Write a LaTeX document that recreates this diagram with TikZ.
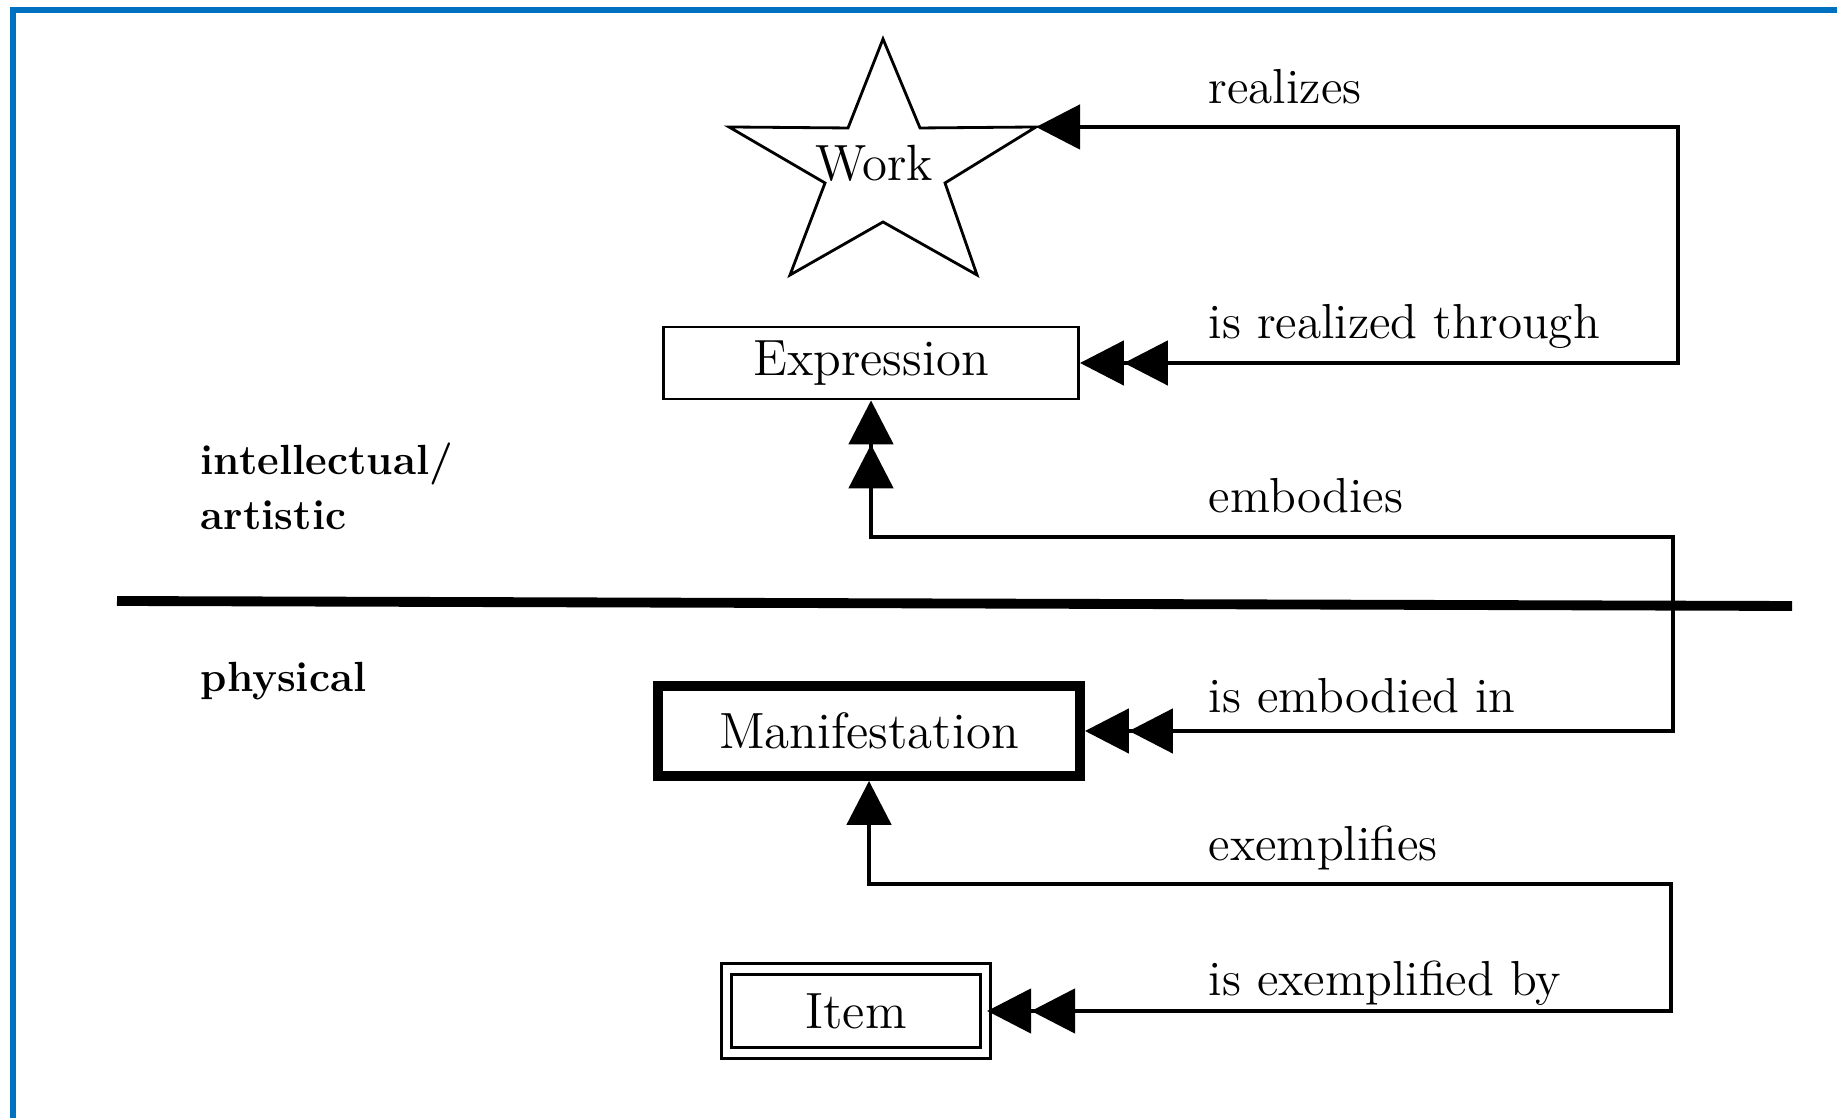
\documentclass[tikz,border=0pt]{standalone}
\usetikzlibrary{arrows.meta}
\definecolor{frameblue}{RGB}{0,112,192}
\begin{document}
\begin{tikzpicture}[
    entity/.style={draw, inner sep=0pt, font=\fontsize{14.5}{17}\selectfont},
    rel/.style={anchor=base west, inner sep=0pt, font=\fontsize{14}{17}\selectfont},
    level/.style={anchor=base west, inner sep=0pt, font=\fontsize{12}{15}\selectfont\bfseries},
    link/.style={line width=1.4pt},
    onetwo/.style={{Triangle[length=4.4mm,width=4.4mm]}-{Triangle[length=4.4mm,width=4.4mm,sep=0pt] Triangle[length=4.4mm,width=4.4mm,sep=0pt]}},
    twotwo/.style={{Triangle[length=4.4mm,width=4.4mm,sep=0pt] Triangle[length=4.4mm,width=4.4mm,sep=0pt]}-{Triangle[length=4.4mm,width=4.4mm,sep=0pt] Triangle[length=4.4mm,width=4.4mm,sep=0pt]}},
    twoone/.style={{Triangle[length=4.4mm,width=4.4mm,sep=0pt] Triangle[length=4.4mm,width=4.4mm,sep=0pt]}-{Triangle[length=4.4mm,width=4.4mm]}}
  ]
  \useasboundingbox (0,0) rectangle (18.37,11.18);
  \draw[frameblue, line width=0.6mm] (0.13,0) -- (0.13,11.08) -- (18.37,11.08);

  % work as a star
  \draw[line width=0.8pt] (8.83,10.79) -- (9.20,9.90) -- (10.36,9.91) -- (9.45,9.35) -- (9.77,8.43)
     -- (8.83,8.96) -- (7.90,8.43) -- (8.25,9.35) -- (7.29,9.91) -- (8.48,9.90) -- cycle;
  \coordinate (work-r) at (10.36,9.91);
  \node[font=\fontsize{14.5}{17}\selectfont] (work) at (8.74,9.55) {Work};

  \node[entity, line width=0.8pt, minimum width=4.15cm, minimum height=0.72cm] (expression) at (8.71,7.55) {Expression};
  \node[entity, line width=2.8pt, minimum width=4.22cm, minimum height=0.90cm] (manifestation) at (8.69,3.87) {Manifestation};
  \node[entity, line width=0.9pt, double, double distance=2pt, minimum width=2.59cm, minimum height=0.84cm] (item) at (8.56,1.07) {Item};

  % levels
  \node[level] (intellectual) at (2.00,6.43) {intellectual/};
  \node[level] (artistic) at (2.00,5.88) {artistic};
  \node[level] (physical) at (2.00,4.26) {physical};
  \draw[line width=2.8pt] (1.17,5.17) -- (17.92,5.12);

  % relationships
  \coordinate (rc) at (16.78,9.91);
  \coordinate (ec) at (16.73,5.81);
  \coordinate (xc) at (16.71,2.34);
  \draw[link, onetwo] (work-r) -- (rc) |- (expression.east);
  \draw[link, twotwo] (manifestation.east) -| (ec) -| (expression.south);
  \draw[link, twoone] (item.east) -| (xc) -| (manifestation.south);

  \node[rel] (realizes) at (12.08,10.14) {realizes};
  \node[rel] (realized) at (12.08,7.79) {is realized through};
  \node[rel] (embodies) at (12.08,6.05) {embodies};
  \node[rel] (embodied) at (12.08,4.05) {is embodied in};
  \node[rel] (exemplifies) at (12.08,2.57) {exemplifies};
  \node[rel] (exemplified) at (12.08,1.22) {is exemplified by};
\end{tikzpicture}
\end{document}
